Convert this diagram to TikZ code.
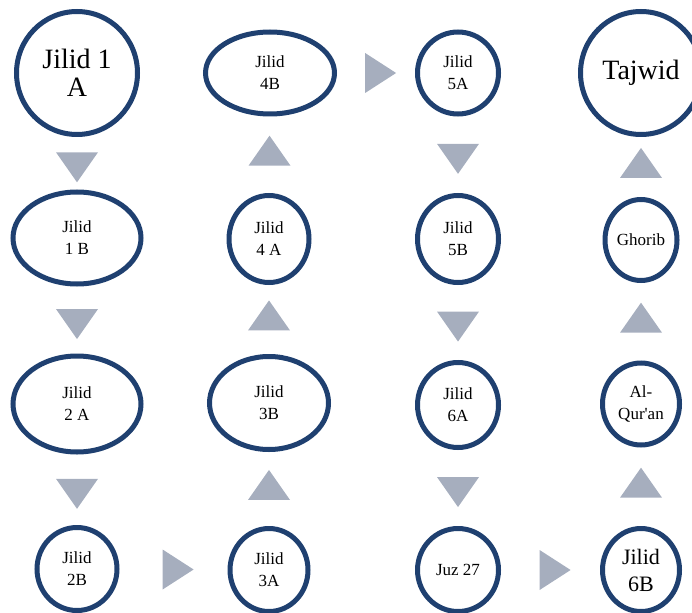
\documentclass[tikz,border=0pt]{standalone}
\usepackage{fontspec}
\setmainfont{Liberation Serif}[Ligatures=TeXOff]
\usetikzlibrary{shapes.geometric,calc}

\definecolor{ringblue}{RGB}{31,64,112}
\definecolor{tricol}{RGB}{166,174,190}

\begin{document}
\begin{tikzpicture}[
  x=1pt, y=-1pt,
  stage/.style={ellipse, draw=ringblue, line width=5pt, fill=white,
                inner sep=0pt, align=center,
                font=\fontsize{17}{22}\selectfont},
  big/.style={font=\fontsize{28}{28}\selectfont},
  mid/.style={font=\fontsize{22}{27}\selectfont},
  tri/.style={isosceles triangle, isosceles triangle stretches,
              fill=tricol, inner sep=0pt,
              minimum height=30pt, minimum width=42pt},
  down/.style={tri, rotate=-90},
  up/.style={tri, rotate=90},
  right/.style={tri, minimum height=31pt, minimum width=40pt},
]
\useasboundingbox (0,0) rectangle (692,612);

% ── row 1 ─────────────────────────────────────────────────────────────────────
\node[stage, big, minimum width=121pt, minimum height=123pt] (j1a) at (77,73) {Jilid 1\\A};
\node[stage, minimum width=129pt, minimum height=82pt] (j4b) at (270,73) {Jilid\\4B};
\node[stage, minimum width=81pt, minimum height=82pt] (j5a) at (458,73) {Jilid\\5A};
\node[stage, big, minimum width=121pt, minimum height=123pt] (tajwid) at (641,73) {Tajwid};

% ── row 2 ─────────────────────────────────────────────────────────────────────
\node[stage, minimum width=128pt, minimum height=92pt] (j1b) at (77,238) {Jilid\\1 B};
\node[stage, minimum width=80pt, minimum height=87pt] (j4a) at (269,239) {Jilid\\4 A};
\node[stage, minimum width=81pt, minimum height=87pt] (j5b) at (458,239) {Jilid\\5B};
\node[stage, minimum width=72pt, minimum height=81pt] (ghorib) at (641,240) {Ghorib};

% ── row 3 ─────────────────────────────────────────────────────────────────────
\node[stage, minimum width=128pt, minimum height=96pt] (j2a) at (77,404) {Jilid\\2 A};
\node[stage, minimum width=119pt, minimum height=93pt] (j3b) at (269,403) {Jilid\\3B};
\node[stage, minimum width=81pt, minimum height=85pt] (j6a) at (458,405) {Jilid\\6A};
\node[stage, minimum width=77pt, minimum height=82pt] (alquran) at (641,404) {Al-\\Qur'an};

% ── row 4 ─────────────────────────────────────────────────────────────────────
\node[stage, minimum width=80pt, minimum height=83pt] (j2b) at (77,569) {Jilid\\2B};
\node[stage, minimum width=78pt, minimum height=83pt] (j3a) at (269,570) {Jilid\\3A};
\node[stage, minimum width=81pt, minimum height=83pt] (juz) at (458,570) {Juz 27};
\node[stage, mid, minimum width=77pt, minimum height=83pt] (j6b) at (641,570) {Jilid\\6B};

% ── arrows between stages ─────────────────────────────────────────────────────
\node[down] (a1) at ($(j1a.south)!0.5!(j1b.north)$) {};
\node[down] (a2) at ($(j1b.south)!0.5!(j2a.north)$) {};
\node[down] (a3) at ($(j2a.south)!0.5!(j2b.north)$) {};
\node[right] (a4) at ($(j2b.east)!0.5!(j3a.west)$) {};
\node[up] (a5) at ($(j3a.north)!0.5!(j3b.south)$) {};
\node[up] (a6) at ($(j3b.north)!0.5!(j4a.south)$) {};
\node[up] (a7) at ($(j4a.north)!0.5!(j4b.south)$) {};
\node[right] (a8) at ($(j4b.east)!0.5!(j5a.west)$) {};
\node[down] (a9) at ($(j5a.south)!0.5!(j5b.north)$) {};
\node[down] (a10) at ($(j5b.south)!0.5!(j6a.north)$) {};
\node[down] (a11) at ($(j6a.south)!0.5!(juz.north)$) {};
\node[right] (a12) at ($(juz.east)!0.5!(j6b.west)$) {};
\node[up] (a13) at ($(j6b.north)!0.5!(alquran.south)$) {};
\node[up] (a14) at ($(alquran.north)!0.5!(ghorib.south)$) {};
\node[up] (a15) at ($(ghorib.north)!0.5!(tajwid.south)$) {};

\end{tikzpicture}
\end{document}
